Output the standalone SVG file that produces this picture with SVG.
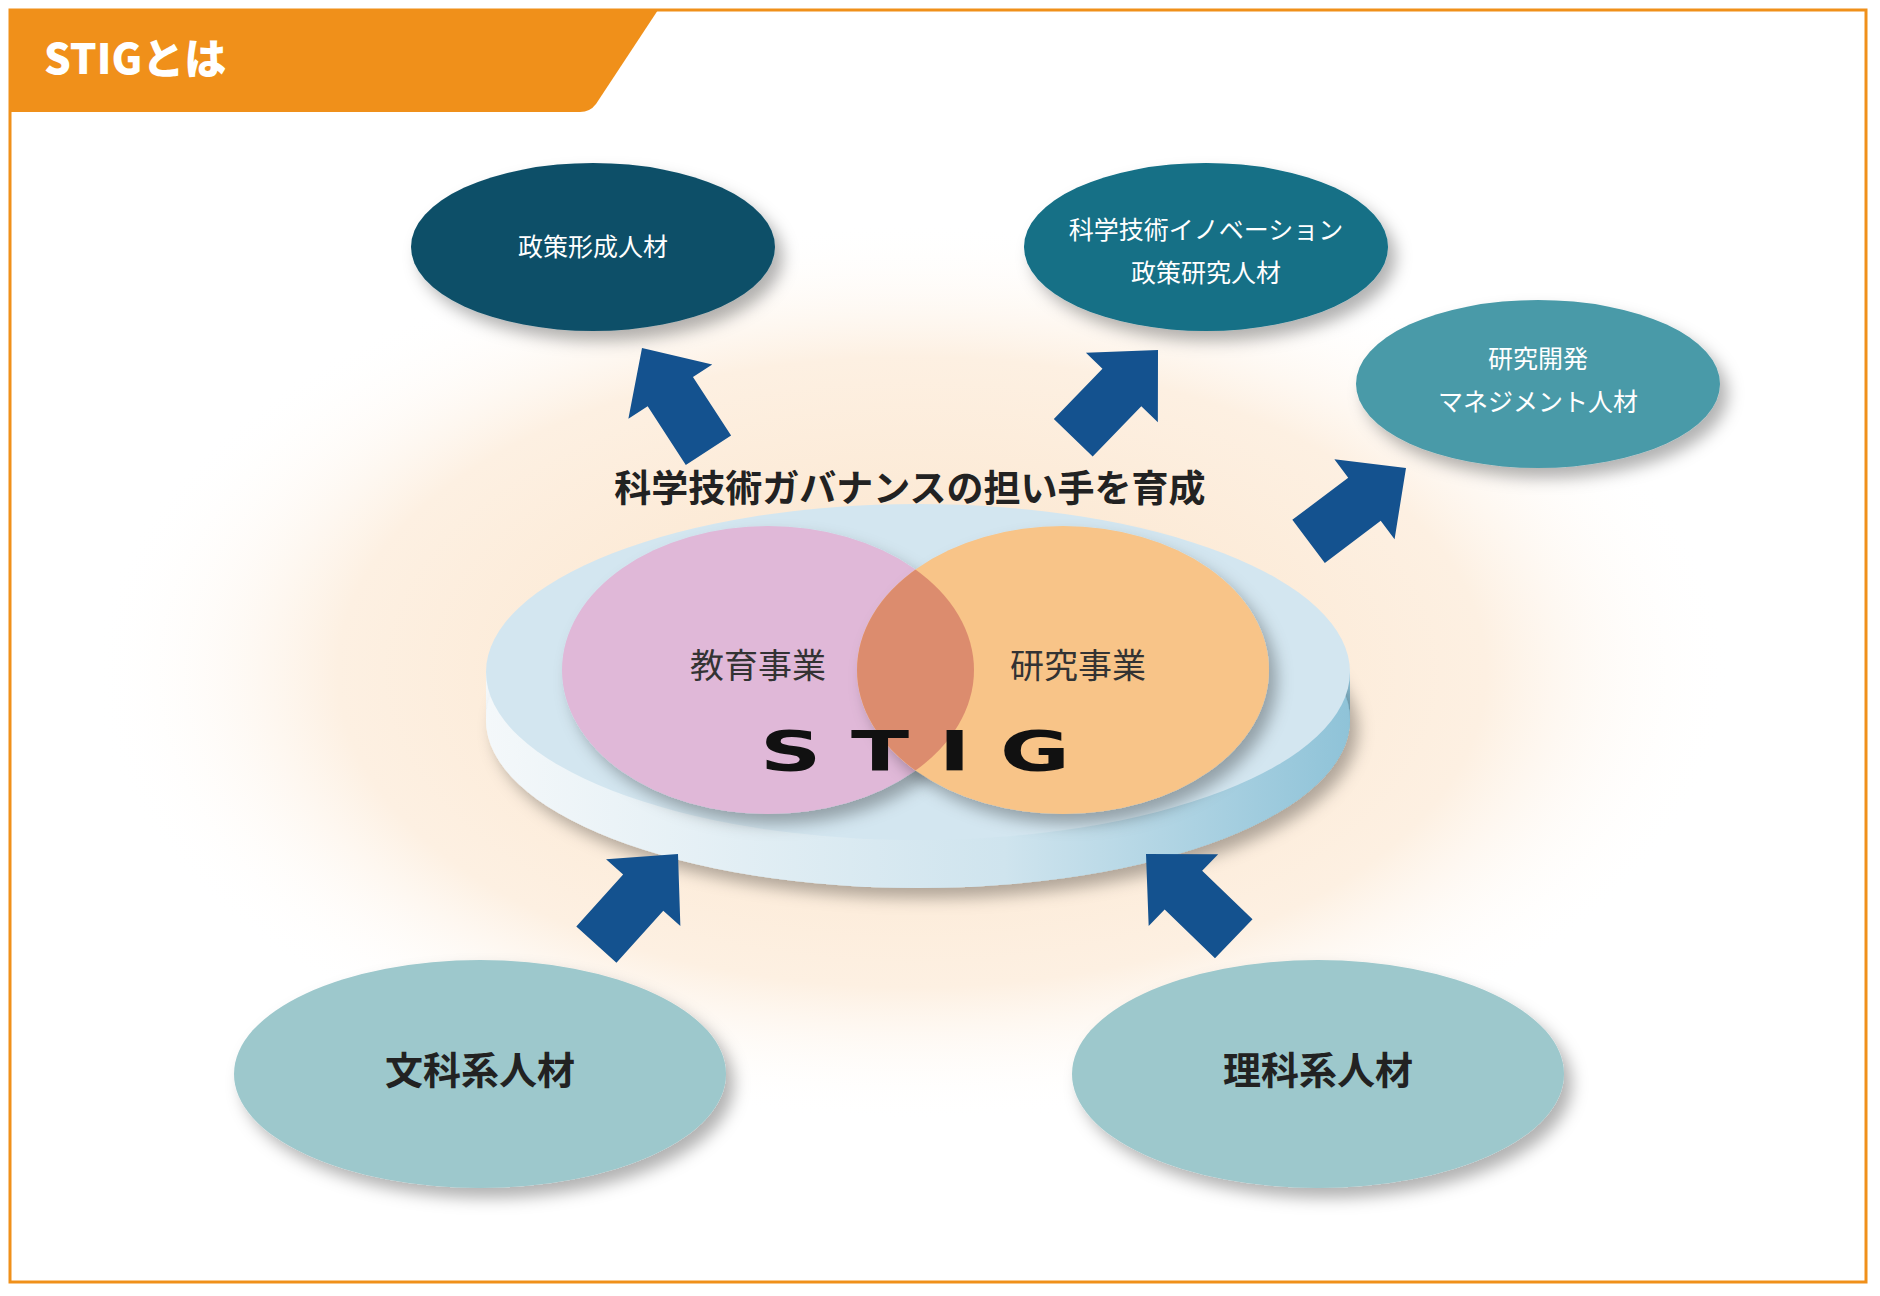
<svg xmlns="http://www.w3.org/2000/svg" width="1880" height="1296" viewBox="0 0 1880 1296">
<style>
.t{font-family:"Noto Sans CJK JP","Noto Sans",sans-serif;text-anchor:middle}
.w{fill:#fff;font-size:25px}
.b{fill:#222;font-weight:bold}
.arr{fill:#14528f}
</style>
<defs>
<radialGradient id="glow" cx="0.5" cy="0.5" r="0.5">
<stop offset="0" stop-color="#fbe3c8"/><stop offset="0.7" stop-color="#fdf0e2"/><stop offset="1" stop-color="#fff" stop-opacity="0"/>
</radialGradient>
<linearGradient id="side" x1="0" x2="1" y1="0" y2="0">
<stop offset="0" stop-color="#f4f8fa"/><stop offset="0.6" stop-color="#cfe4ee"/><stop offset="1" stop-color="#8fc3d8"/>
</linearGradient>
<filter id="sh" x="-20%" y="-20%" width="150%" height="160%"><feDropShadow dx="8" dy="10" stdDeviation="8" flood-color="#000" flood-opacity="0.3"/></filter>
<clipPath id="pinkc"><ellipse cx="768" cy="670" rx="206" ry="144"/></clipPath>
<path id="arrow" d="M0,0 L50,52 L27,52 L27,122 L-27,122 L-27,52 L-50,52 Z"/>
</defs>
<rect width="1880" height="1296" fill="#fff"/>
<rect x="10" y="10" width="1856" height="1272" fill="#fff" stroke="#f0901a" stroke-width="3"/>
<ellipse cx="912" cy="672" rx="820" ry="450" fill="url(#glow)"/>
<g id="header"><path d="M10,10 H658 L596,104 Q590,112 580,112 H10 Z" fill="#f0901a"/>
<text x="44" y="74" font-family="'Noto Sans CJK JP',sans-serif" font-size="42" font-weight="900" fill="#fff">STIGとは</text></g>
<g id="node-seisaku"><ellipse cx="593" cy="247" rx="182" ry="84" fill="#0d4f68" filter="url(#sh)"/><text class="t w" x="593" y="256">政策形成人材</text></g>
<g id="node-innov"><ellipse cx="1206" cy="247" rx="182" ry="84" fill="#136f86" filter="url(#sh)"/><text class="t w" x="1206" y="239">科学技術イノベーション</text><text class="t w" x="1206" y="282">政策研究人材</text></g>
<g id="node-rd"><ellipse cx="1538" cy="384" rx="182" ry="84" fill="#4a9aa8" filter="url(#sh)"/><text class="t w" x="1538" y="368">研究開発</text><text class="t w" x="1538" y="411">マネジメント人材</text></g>
<g id="node-bunka"><ellipse cx="480" cy="1074" rx="246" ry="114" fill="#9dc8cc" filter="url(#sh)"/><text class="t b" x="480" y="1084" font-size="38">文科系人材</text></g>
<g id="node-rika"><ellipse cx="1318" cy="1074" rx="246" ry="114" fill="#9dc8cc" filter="url(#sh)"/><text class="t b" x="1318" y="1084" font-size="38">理科系人材</text></g>
<g id="title"><text class="t b" x="910" y="502" font-size="37">科学技術ガバナンスの担い手を育成</text></g>
<g id="stig">
<path d="M486,672 V720 A432,168 0 0 0 1350,720 V672 Z" fill="url(#side)"/>
<ellipse cx="918" cy="720" rx="432" ry="168" fill="url(#side)" filter="url(#sh)"/>
<ellipse cx="918" cy="672" rx="432" ry="168" fill="#d3e6f0"/>
<ellipse cx="768" cy="670" rx="206" ry="144" fill="#e0b8d8" filter="url(#sh)"/>
<ellipse cx="1063" cy="670" rx="206" ry="144" fill="#f8c488" filter="url(#sh)"/>
<ellipse cx="1063" cy="670" rx="206" ry="144" fill="#dc8c6e" clip-path="url(#pinkc)"/>
<text class="t" x="758" y="678" font-size="34" fill="#333">教育事業</text>
<text class="t" x="1078" y="678" font-size="34" fill="#333">研究事業</text>
<text x="760" y="770" font-family="'DejaVu Sans',sans-serif" font-weight="bold" font-size="56" fill="#111" textLength="310" lengthAdjust="spacingAndGlyphs">S T I G</text>
</g>
<g id="connectors">
<use href="#arrow" class="arr" transform="translate(642,348) rotate(-33)"/>
<use href="#arrow" class="arr" transform="translate(1158,350) rotate(44)"/>
<use href="#arrow" class="arr" transform="translate(1406,468) rotate(53)"/>
<use href="#arrow" class="arr" transform="translate(678,854) rotate(42)"/>
<use href="#arrow" class="arr" transform="translate(1146,854) rotate(-46)"/>
</g>
</svg>
